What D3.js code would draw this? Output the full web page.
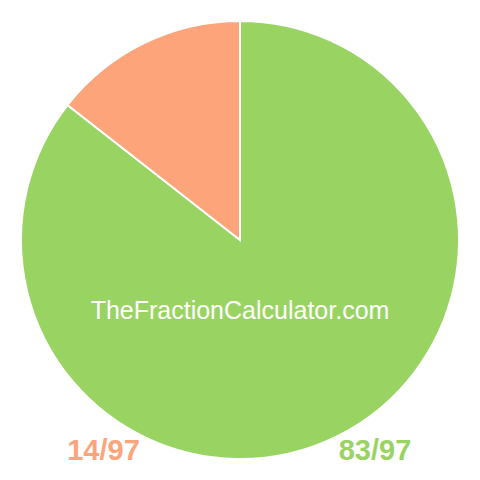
<!DOCTYPE html>
<meta charset="UTF-8">
<script src="https://cdnjs.cloudflare.com/ajax/libs/d3/7.4.4/d3.min.js"></script>
<style>
    body { margin: 0; background: #fff; }
</style>
<svg id="chart" width="480" height="480"></svg>
<script>
    // slices go clockwise from 12 o'clock
    let labels = ["83/97", "14/97"];
    let values = [83, 14];
    let colors = ["#99d462", "#fda47b"];

    let svg = d3.select("#chart"),
        width = +svg.attr("width"),
        height = +svg.attr("height");
    let radius = 219;

    let pie = d3.pie().sort(null).value(d => d);
    let arc = d3.arc().innerRadius(0).outerRadius(radius);

    let g = svg.append("g")
        .attr("transform", "translate(" + width / 2 + "," + height / 2 + ")");

    g.selectAll("path")
        .data(pie(values))
        .enter()
        .append("path")
        .attr("d", arc)
        .style("fill", (d, i) => colors[i])
        .style("stroke", "#fff")
        .style("stroke-width", 2);

    svg.append("text")
        .attr("x", width / 2)
        .attr("y", 319)
        .style("font-family", "Liberation Sans, Arial, sans-serif")
        .style("font-size", "25px")
        .style("text-anchor", "middle")
        .style("fill", "#fff")
        .text("TheFractionCalculator.com");

    // legend-like fraction labels under the pie
    let labelX = [375, 103.5];
    svg.selectAll(".frac")
        .data(labels)
        .enter()
        .append("text")
        .attr("class", "frac")
        .attr("x", (d, i) => labelX[i])
        .attr("y", 460)
        .style("font-family", "Liberation Sans, Arial, sans-serif")
        .style("font-weight", "bold")
        .style("font-size", "29px")
        .style("text-anchor", "middle")
        .style("fill", (d, i) => colors[i])
        .text(d => d);
</script>
